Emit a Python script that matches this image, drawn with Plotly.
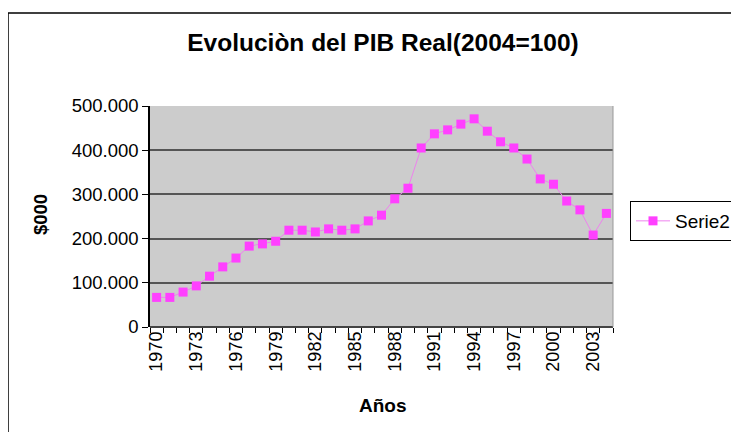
import plotly.graph_objects as go

years = list(range(1970, 2005))
pib = [67000, 67000, 79000, 93000, 115000, 136000, 156000, 183000, 188000, 194000,
       219000, 219000, 215000, 222000, 219000, 222000, 240000, 253000, 290000, 314000,
       405000, 437000, 446000, 459000, 471000, 443000, 419000, 405000, 380000, 335000,
       323000, 285000, 265000, 208000, 257000]
tick_years = list(range(1970, 2005, 3))
tick_labels = [str(y) for y in tick_years]
y_ticks = [0, 100000, 200000, 300000, 400000, 500000]

OFF = 8  # page body margin
W, H = 739 - OFF, 432 - OFF
# plot area in screen pixels
SL, SR, ST, SB = 150, 613, 106, 327
L, R, T, B = SL - OFF, SR - OFF, ST - OFF, SB - OFF


def px(x):
    return (x - SL) / (SR - SL)


def py(y):
    return (SB - y) / (SB - ST)


fig = go.Figure()
fig.add_trace(go.Scatter(
    x=years, y=pib, mode="lines+markers", name="Serie2",
    line=dict(color="#EE82EE", width=1),
    marker=dict(symbol="square", size=9, color="#FF40FF", line=dict(width=0)),
))

fig.update_layout(
    width=W, height=H,
    margin=dict(l=L, r=W - R, t=T, b=H - B, autoexpand=False),
    paper_bgcolor="white", plot_bgcolor="#CCCCCC",
    separators=",.",
    font=dict(family="Liberation Sans, Arial, sans-serif", color="black", size=19),
    title=dict(text="<b>Evoluciòn del PIB Real(2004=100)</b>", x=(383 - OFF) / W,
               xanchor="center", y=1 - (42 - OFF) / H, yanchor="middle",
               font=dict(size=24.5)),
    showlegend=True,
    legend=dict(x=px(630), xanchor="left", y=py(201), yanchor="top",
                bordercolor="black", borderwidth=1, bgcolor="white",
                font=dict(size=19), tracegroupgap=0, itemwidth=34),
    xaxis=dict(range=[1969.5, 2004.5], tickvals=tick_years, ticktext=tick_labels,
               tickangle=-90, ticks="", showgrid=False, zeroline=False,
               showline=False, tickfont=dict(size=18), automargin=False,
               minor=dict(tick0=1969.5, dtick=1, ticks="outside", ticklen=5,
                          tickcolor="black", tickwidth=1, showgrid=False)),
    yaxis=dict(range=[0, 500000], tickvals=y_ticks, tickformat=",d",
               ticks="outside", ticklen=6, tickcolor="black", automargin=False,
               showgrid=True, gridcolor="#555555", gridwidth=1.5,
               zeroline=True, zerolinecolor="#444444", zerolinewidth=1.5,
               showline=True, linecolor="black", linewidth=1.5,
               tickfont=dict(size=18.5)),
    annotations=[
        dict(text="<b>$000</b>", x=px(40), y=py(215), xref="paper", yref="paper",
             xanchor="center", yanchor="middle",
             textangle=-90, showarrow=False, font=dict(size=18.5)),
        dict(text="<b>Años</b>", x=px(383), y=py(405), xref="paper", yref="paper",
             xanchor="center", yanchor="middle",
             showarrow=False, font=dict(size=19)),
    ],
    shapes=[
        dict(type="rect", xref="paper", yref="paper", x0=px(8), x1=px(760),
             y0=py(460), y1=py(13), line=dict(color="black", width=1.5), layer="below"),
        dict(type="line", xref="paper", yref="paper", x0=1, x1=1, y0=0, y1=1,
             line=dict(color="#999999", width=1)),
    ],
)

fig.write_html("out.html")
